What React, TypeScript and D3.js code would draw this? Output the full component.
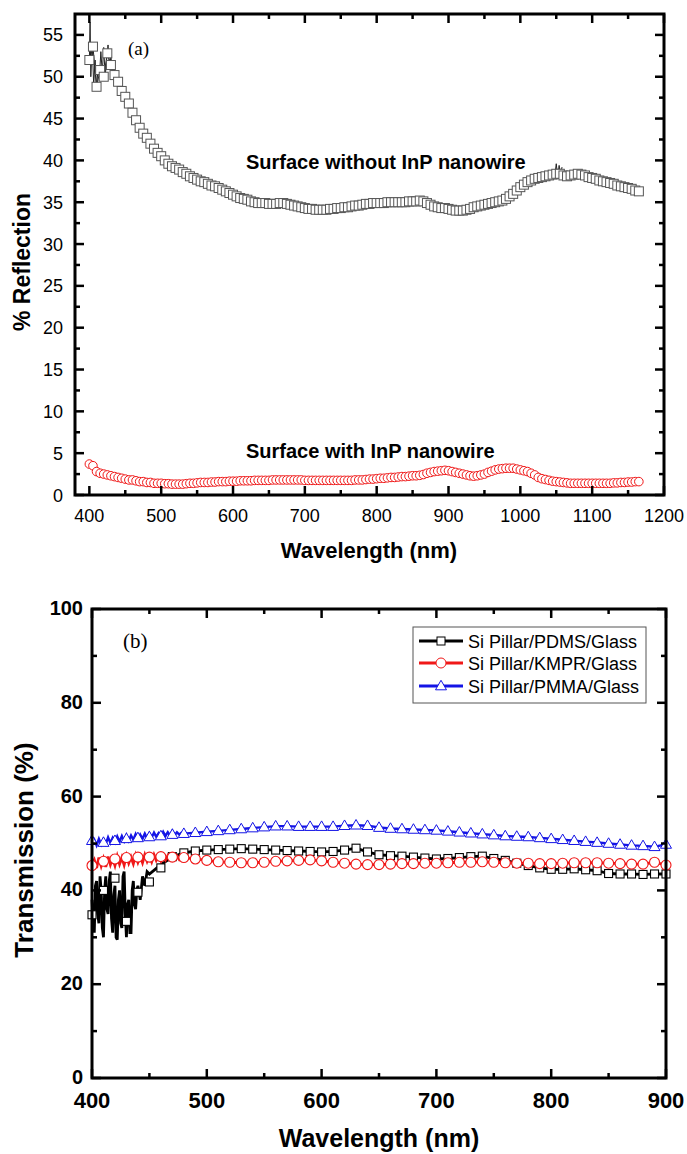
import React from 'react';
import * as d3 from 'd3';

// ---------- Panel (a): reflection ----------
const topLambda = d3.range(400, 1166, 5);
const withoutNanowire = [
  52.0, 53.6, 48.8, 50.8, 50.0, 52.8, 51.4, 50.2, 49.4, 48.3,
  47.6, 46.8, 45.7, 44.8, 43.9, 43.2, 42.7, 42.0, 41.4, 40.9,
  40.5, 40.0, 39.6, 39.3, 39.1, 38.9, 38.6, 38.4, 38.1, 37.9,
  37.7, 37.5, 37.4, 37.2, 37.0, 36.9, 36.7, 36.5, 36.3, 36.1,
  35.9, 35.7, 35.5, 35.4, 35.3, 35.1, 35.0, 34.9, 34.9, 34.9,
  34.8, 34.8, 34.8, 34.9, 34.9, 34.8, 34.7, 34.6, 34.5, 34.4,
  34.3, 34.2, 34.2, 34.1, 34.1, 34.1, 34.1, 34.2, 34.2, 34.3,
  34.3, 34.4, 34.4, 34.5, 34.6, 34.6, 34.7, 34.8, 34.8, 34.9,
  34.9, 34.9, 34.9, 35.0, 35.0, 35.0, 35.0, 35.0, 35.0, 35.1,
  35.1, 35.1, 35.2, 35.1, 34.9, 34.7, 34.5, 34.4, 34.3, 34.3,
  34.2, 34.1, 34.0, 34.0, 34.0, 34.1, 34.2, 34.4, 34.5, 34.6,
  34.7, 34.8, 34.9, 35.0, 35.1, 35.2, 35.4, 35.7, 36.0, 36.4,
  36.8, 37.1, 37.4, 37.6, 37.8, 37.9, 38.0, 38.1, 38.2, 38.3,
  38.4, 38.4, 38.2, 38.1, 38.2, 38.3, 38.4, 38.3, 38.2, 38.0,
  37.9, 37.8, 37.6, 37.5, 37.4, 37.3, 37.2, 37.0, 36.9, 36.8,
  36.7, 36.6, 36.4, 36.3,
];
const withNanowire = [
  3.7, 3.5, 2.8, 2.6, 2.5, 2.4, 2.3, 2.2, 2.1, 2.0,
  1.9, 1.8, 1.8, 1.7, 1.6, 1.6, 1.5, 1.5, 1.4, 1.4,
  1.4, 1.35, 1.35, 1.3, 1.3, 1.3, 1.3, 1.35, 1.4, 1.4,
  1.45, 1.5, 1.5, 1.5, 1.55, 1.55, 1.6, 1.6, 1.6, 1.65,
  1.65, 1.65, 1.7, 1.7, 1.7, 1.7, 1.75, 1.75, 1.75, 1.75,
  1.75, 1.8, 1.8, 1.8, 1.8, 1.8, 1.8, 1.8, 1.8, 1.8,
  1.75, 1.75, 1.75, 1.75, 1.75, 1.75, 1.75, 1.75, 1.75, 1.75,
  1.75, 1.75, 1.75, 1.75, 1.8, 1.8, 1.8, 1.85, 1.9, 1.9,
  1.95, 2.0, 2.0, 2.05, 2.1, 2.1, 2.15, 2.2, 2.2, 2.25,
  2.3, 2.3, 2.35, 2.45, 2.6, 2.7, 2.8, 2.85, 2.9, 2.95,
  2.9, 2.8, 2.7, 2.6, 2.5, 2.4, 2.3, 2.25, 2.3, 2.4,
  2.5, 2.7, 2.85, 3.0, 3.1, 3.15, 3.2, 3.2, 3.2, 3.1,
  3.0, 2.9, 2.8, 2.6, 2.4, 2.1, 1.95, 1.85, 1.75, 1.65,
  1.6, 1.55, 1.5, 1.45, 1.4, 1.4, 1.4, 1.4, 1.4, 1.4,
  1.4, 1.4, 1.4, 1.4, 1.4, 1.4, 1.45, 1.45, 1.5, 1.5,
  1.55, 1.55, 1.6, 1.6,
];
// noisy raw trace under the squares at the short-wavelength end
const noiseLambdaA = [400, 401, 402, 404, 406, 408, 410, 412, 414, 416, 418, 420, 422, 424, 426, 428, 430, 432, 434, 436, 438, 440];
const noiseValueA = [52.0, 56.5, 50.0, 54.0, 49.0, 52.0, 48.5, 51.0, 50.0, 53.0, 50.5, 53.5, 50.0, 52.0, 53.8, 51.0, 52.5, 50.5, 51.5, 50.0, 49.5, 49.4];
const spikeLambdaA = [1048, 1050, 1052, 1054, 1056, 1058];
const spikeValueA = [38.2, 39.6, 38.0, 39.4, 38.1, 39.2];

const xTicksA = [400, 500, 600, 700, 800, 900, 1000, 1100, 1200];
const xMinorA = [450, 550, 650, 750, 850, 950, 1050, 1150];
const yTicksA = [0, 5, 10, 15, 20, 25, 30, 35, 40, 45, 50, 55];
const yMinorA = [2.5, 7.5, 12.5, 17.5, 22.5, 27.5, 32.5, 37.5, 42.5, 47.5, 52.5];

// ---------- Panel (b): transmission ----------
const botLambda = d3.range(400, 901, 10);
const pdms = [
  34.8, 40.0, 42.6, 33.4, 39.6, 41.8, 44.8, 47.2, 48.0, 48.4,
  48.6, 48.7, 48.8, 48.9, 48.8, 48.7, 48.6, 48.5, 48.4, 48.3,
  48.2, 48.3, 48.6, 49.0, 48.2, 47.6, 47.4, 47.3, 47.1, 46.9,
  46.7, 46.8, 47.0, 47.2, 47.3, 46.8, 46.4, 45.8, 45.3, 44.8,
  44.5, 44.5, 44.6, 44.4, 44.2, 43.6, 43.5, 43.5, 43.4, 43.5,
  43.5,
];
const kmpr = [
  45.3, 46.2, 46.7, 47.0, 47.1, 47.1, 47.2, 47.1, 47.0, 46.7,
  46.4, 46.1, 46.0, 45.9, 45.9, 46.0, 46.2, 46.3, 46.4, 46.5,
  46.3, 46.0, 45.8, 45.6, 45.5, 45.5, 45.6, 45.7, 45.7, 45.8,
  45.8, 45.9, 46.0, 46.0, 46.1, 46.0, 45.9, 45.8, 45.8, 45.7,
  45.7, 45.8, 45.9, 45.9, 45.9, 45.8, 45.7, 45.6, 45.6, 46.0,
  45.4,
];
const pmma = [
  50.6, 50.2, 50.6, 51.0, 51.2, 51.4, 51.6, 51.9, 52.1, 52.3,
  52.5, 52.7, 52.9, 53.1, 53.3, 53.5, 53.7, 53.7, 53.6, 53.6,
  53.6, 53.6, 53.8, 53.9, 53.8, 53.4, 53.2, 53.1, 53.0, 52.9,
  52.8, 52.6, 52.4, 52.2, 52.0, 51.8, 51.6, 51.5, 51.4, 51.2,
  51.0, 50.8, 50.6, 50.4, 50.2, 50.0, 49.8, 49.6, 49.5, 49.3,
  49.8,
];
// noisy raw traces at short wavelength
const noiseLambdaPdms = [400, 401, 402, 403, 404, 405, 406, 407, 408, 409, 410, 411, 412, 413, 414, 415, 416, 417, 418, 419, 420, 421, 422, 423, 424, 425, 426, 427, 428, 429, 430, 431, 432, 433, 434, 435, 436, 437, 438, 439, 440, 442, 444, 446, 448, 450, 455, 460, 465, 470, 475, 480];
const noisePdms = [38, 33, 31, 41, 42, 35, 33, 43, 40, 32, 30, 40, 43, 36, 35, 42, 44, 34, 31, 39, 41, 30, 29.5, 38, 40, 33, 32, 43, 44, 35, 30, 37, 38, 31, 31, 40, 42, 37, 36, 40, 41, 38, 43, 41, 44, 43.5, 44.5, 45.5, 46.3, 47.0, 47.6, 48.0];
const noiseLambdaKmpr = [400, 402, 404, 406, 408, 410, 412, 414, 416, 418, 420, 422, 424, 426, 428, 430, 432, 434, 436, 438, 440, 442, 444, 446, 448, 450, 452, 454, 456, 458, 460, 462, 464, 466, 468, 470, 472, 474, 476, 478, 480];
const noiseKmpr = [45.5, 46.5, 44.8, 47.0, 45.2, 46.8, 45.0, 47.2, 45.5, 46.9, 45.3, 47.3, 45.6, 47.0, 45.4, 47.4, 45.8, 47.1, 45.7, 47.5, 46.0, 47.3, 45.9, 47.6, 46.2, 47.4, 46.1, 47.6, 46.4, 47.3, 46.3, 47.5, 46.5, 47.4, 46.6, 47.5, 46.7, 47.3, 46.6, 47.2, 47.0];
const noiseLambdaPmma = noiseLambdaKmpr;
const noisePmma = [50.0, 50.8, 49.6, 51.0, 49.8, 50.9, 49.9, 51.3, 50.1, 51.2, 50.2, 51.5, 50.4, 51.6, 50.5, 51.8, 50.6, 51.7, 50.8, 52.0, 50.9, 51.9, 51.0, 52.1, 51.1, 52.2, 51.3, 52.3, 51.4, 52.2, 51.5, 52.5, 51.6, 52.4, 51.7, 52.7, 51.8, 52.4, 51.9, 52.3, 52.1];

const xTicksB = [400, 500, 600, 700, 800, 900];
const xMinorB = [450, 550, 650, 750, 850];
const yTicksB = [0, 20, 40, 60, 80, 100];
const yMinorB = [10, 30, 50, 70, 90];

const legendLabels = ['Si Pillar/PDMS/Glass', 'Si Pillar/KMPR/Glass', 'Si Pillar/PMMA/Glass'];
const RED = '#f01818';
const BLUE = '#1414e6';

const SANS = 'Liberation Sans, Arial, Helvetica, sans-serif';
const SERIF = 'Liberation Serif, Times New Roman, serif';

function Frame({ x0, x1, y0, y1, xs, ys, xMaj, xMin, yMaj, yMin }: any) {
  const maj = 9, mn = 5;
  const els: any[] = [];
  xMaj.forEach((v: number, i: number) => {
    const x = xs(v);
    els.push(<line key={'xb' + i} x1={x} x2={x} y1={y0} y2={y0 - maj} />);
    els.push(<line key={'xt' + i} x1={x} x2={x} y1={y1} y2={y1 + maj} />);
  });
  xMin.forEach((v: number, i: number) => {
    const x = xs(v);
    els.push(<line key={'xmb' + i} x1={x} x2={x} y1={y0} y2={y0 - mn} />);
    els.push(<line key={'xmt' + i} x1={x} x2={x} y1={y1} y2={y1 + mn} />);
  });
  yMaj.forEach((v: number, i: number) => {
    const y = ys(v);
    els.push(<line key={'yl' + i} x1={x0} x2={x0 + maj} y1={y} y2={y} />);
    els.push(<line key={'yr' + i} x1={x1} x2={x1 - maj} y1={y} y2={y} />);
  });
  yMin.forEach((v: number, i: number) => {
    const y = ys(v);
    els.push(<line key={'yml' + i} x1={x0} x2={x0 + mn} y1={y} y2={y} />);
    els.push(<line key={'ymr' + i} x1={x1} x2={x1 - mn} y1={y} y2={y} />);
  });
  return (
    <g stroke="#000" strokeWidth={2.5} fill="none">
      {els}
      <rect x={x0} y={y1} width={x1 - x0} height={y0 - y1} strokeWidth={3} />
    </g>
  );
}

function triPath(cx: number, cy: number, s: number) {
  const h = s * 0.866;
  return `M${cx},${cy - h * 0.6}L${cx + s / 2},${cy + h * 0.4}L${cx - s / 2},${cy + h * 0.4}Z`;
}

export default function App() {
  // panel (a)
  const xA = d3.scaleLinear().domain([380, 1200]).range([75, 664]);
  const yA = d3.scaleLinear().domain([0, 57.5]).range([495, 14]);
  const lineA = d3.line<[number, number]>().x(d => xA(d[0])).y(d => yA(d[1]));
  const sqPts = topLambda.map((l, i) => [l, withoutNanowire[i]] as [number, number]);
  const ciPts = topLambda.map((l, i) => [l, withNanowire[i]] as [number, number]);
  const noiseA = noiseLambdaA.map((l, i) => [l, noiseValueA[i]] as [number, number]);
  const spikeA = spikeLambdaA.map((l, i) => [l, spikeValueA[i]] as [number, number]);

  // panel (b)
  const xB = d3.scaleLinear().domain([400, 900]).range([92, 666]);
  const yB = d3.scaleLinear().domain([0, 100]).range([1078, 609]);
  const lineB = d3.line<[number, number]>().x(d => xB(d[0])).y(d => yB(d[1]));
  const mk = (lam: number[], v: number[]) => lam.map((l, i) => [l, v[i]] as [number, number]);
  const pdmsPts = mk(botLambda, pdms);
  const kmprPts = mk(botLambda, kmpr);
  const pmmaPts = mk(botLambda, pmma);
  const pdmsLine = mk(noiseLambdaPdms, noisePdms).concat(pdmsPts.filter(p => p[0] > 480));
  const kmprLine = mk(noiseLambdaKmpr, noiseKmpr).concat(kmprPts.filter(p => p[0] > 480));
  const pmmaLine = mk(noiseLambdaPmma, noisePmma).concat(pmmaPts.filter(p => p[0] > 480));

  const legX = 413, legY = 627, legW = 233, legH = 76;
  const rowY = [641, 663, 686];

  return (
    <svg width={687} height={1154} style={{ position: 'absolute', left: 0, top: 0, background: '#fff' }}>
      <rect x={0} y={0} width={687} height={1154} fill="#fff" />
      {/* ---------- panel (a) ---------- */}
      <path d={lineA(sqPts) || ''} fill="none" stroke="#222" strokeWidth={1} />
      <path d={lineA(noiseA) || ''} fill="none" stroke="#222" strokeWidth={1} />
      <path d={lineA(spikeA) || ''} fill="none" stroke="#222" strokeWidth={1} />
      {sqPts.map((p, i) => (
        <rect key={'sq' + i} x={xA(p[0]) - 4.5} y={yA(p[1]) - 4.5} width={9} height={9} fill="#fff" stroke="#555" strokeWidth={1} />
      ))}
      <path d={lineA(ciPts) || ''} fill="none" stroke={RED} strokeWidth={1} />
      {ciPts.map((p, i) => (
        <circle key={'ci' + i} cx={xA(p[0])} cy={yA(p[1])} r={4.3} fill="#fff" stroke={RED} strokeWidth={1} />
      ))}
      <Frame x0={75} x1={664} y0={495} y1={14} xs={xA} ys={yA} xMaj={xTicksA} xMin={xMinorA} yMaj={yTicksA} yMin={yMinorA} />
      <g fontFamily={SANS} fontSize={18} fill="#000">
        {xTicksA.map((v, i) => (
          <text key={'xla' + i} x={xA(v)} y={522} textAnchor="middle">{String(v)}</text>
        ))}
        {yTicksA.map((v, i) => (
          <text key={'yla' + i} x={63} y={yA(v) + 6.5} textAnchor="end">{String(v)}</text>
        ))}
      </g>
      <text x={369} y={558} textAnchor="middle" fontFamily={SANS} fontWeight="bold" fontSize={22}>Wavelength (nm)</text>
      <text transform="translate(30,262) rotate(-90)" textAnchor="middle" fontFamily={SANS} fontWeight="bold" fontSize={23}>% Reflection</text>
      <text x={128} y={55} fontFamily={SERIF} fontSize={19}>(a)</text>
      <text x={246} y={169} fontFamily={SANS} fontWeight="bold" fontSize={20}>Surface without InP nanowire</text>
      <text x={246} y={458} fontFamily={SANS} fontWeight="bold" fontSize={20}>Surface with InP nanowire</text>

      {/* ---------- panel (b) ---------- */}
      <path d={lineB(pdmsLine) || ''} fill="none" stroke="#000" strokeWidth={2.8} />
      {pdmsPts.map((p, i) => (
        <rect key={'pd' + i} x={xB(p[0]) - 4} y={yB(p[1]) - 4} width={8} height={8} fill="#fff" stroke="#000" strokeWidth={1.1} />
      ))}
      <path d={lineB(kmprLine) || ''} fill="none" stroke={RED} strokeWidth={2.8} />
      {kmprPts.map((p, i) => (
        <circle key={'km' + i} cx={xB(p[0])} cy={yB(p[1])} r={5} fill="#fff" stroke={RED} strokeWidth={1.1} />
      ))}
      <path d={lineB(pmmaLine) || ''} fill="none" stroke={BLUE} strokeWidth={2.4} />
      {pmmaPts.map((p, i) => (
        <path key={'pm' + i} d={triPath(xB(p[0]), yB(p[1]), 11)} fill="#fff" stroke={BLUE} strokeWidth={1} />
      ))}
      <Frame x0={92} x1={666} y0={1078} y1={609} xs={xB} ys={yB} xMaj={xTicksB} xMin={xMinorB} yMaj={yTicksB} yMin={yMinorB} />
      <g fontFamily={SANS} fontWeight="bold" fill="#000">
        {xTicksB.map((v, i) => (
          <text key={'xlb' + i} x={xB(v)} y={1108} textAnchor="middle" fontSize={22}>{String(v)}</text>
        ))}
        {yTicksB.map((v, i) => (
          <text key={'ylb' + i} x={83} y={yB(v) + 6} textAnchor="end" fontSize={20}>{String(v)}</text>
        ))}
      </g>
      <text x={379} y={1147} textAnchor="middle" fontFamily={SANS} fontWeight="bold" fontSize={25}>Wavelength (nm)</text>
      <text transform="translate(33,850) rotate(-90)" textAnchor="middle" fontFamily={SANS} fontWeight="bold" fontSize={26}>Transmission (%)</text>
      <text x={123} y={648} fontFamily={SERIF} fontSize={21}>(b)</text>

      {/* legend */}
      <rect x={legX} y={legY} width={legW} height={legH} fill="#fff" stroke="#555" strokeWidth={1} />
      <line x1={419} x2={463} y1={rowY[0]} y2={rowY[0]} stroke="#000" strokeWidth={3} />
      <rect x={441 - 4} y={rowY[0] - 4} width={8} height={8} fill="#fff" stroke="#000" strokeWidth={1} />
      <line x1={419} x2={463} y1={rowY[1]} y2={rowY[1]} stroke={RED} strokeWidth={3} />
      <circle cx={441} cy={rowY[1]} r={5} fill="#fff" stroke={RED} strokeWidth={1} />
      <line x1={419} x2={463} y1={rowY[2]} y2={rowY[2]} stroke={BLUE} strokeWidth={3} />
      <path d={triPath(441, rowY[2], 11)} fill="#fff" stroke={BLUE} strokeWidth={1} />
      <g fontFamily={SANS} fontSize={18} fill="#000">
        {legendLabels.map((t, i) => (
          <text key={'lg' + i} x={468} y={rowY[i] + 6.5}>{t}</text>
        ))}
      </g>
    </svg>
  );
}
